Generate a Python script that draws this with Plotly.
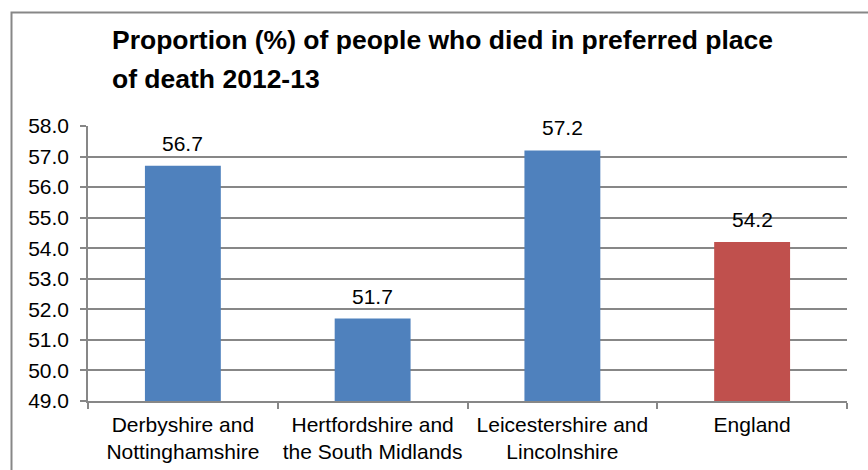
import plotly.graph_objects as go

# Regions and the share (%) of deaths that happened in the preferred place
regions = [
    "Derbyshire and<br>Nottinghamshire",
    "Hertfordshire and<br>the South Midlands",
    "Leicestershire and<br>Lincolnshire",
    "England",
]
proportions = [56.7, 51.7, 57.2, 54.2]
bar_colors = ["#4F81BD", "#4F81BD", "#4F81BD", "#C0504D"]
y_ticks = [49.0, 50.0, 51.0, 52.0, 53.0, 54.0, 55.0, 56.0, 57.0, 58.0]
title_lines = ["Proportion (%) of people who died in preferred place", "of death 2012-13"]

W, H = 868, 470
L, R, T, B = 88, 21, 126, 69
plot_w = W - L - R
plot_h = H - T - B

FONT = "Liberation Sans, Arial, sans-serif"
GREY = "#878787"


def px_x(px):
    return (px - L) / plot_w


def px_y(py):
    return (H - B - py) / plot_h


fig = go.Figure(
    go.Bar(
        x=regions,
        y=proportions,
        marker=dict(color=bar_colors, line=dict(width=0)),
        width=0.4,
        hoverinfo="skip",
    )
)

# value labels above each bar
for name, val in zip(regions, proportions):
    fig.add_annotation(
        x=name, y=val, text=f"{val:.1f}", showarrow=False,
        yanchor="bottom", yshift=9,
        font=dict(family=FONT, size=21, color="#000000"),
    )

# two-line bold title, left aligned
for line, cy in zip(title_lines, [40, 79]):
    fig.add_annotation(
        xref="paper", yref="paper", x=px_x(110), y=px_y(cy),
        xanchor="left", yanchor="middle", showarrow=False,
        text=f"<b>{line}</b>",
        font=dict(family=FONT, size=26.5, color="#000000"),
    )

# chart area frame (runs off the right and bottom edge)
fig.add_shape(
    type="rect", xref="paper", yref="paper",
    x0=px_x(11.5), x1=px_x(W + 20), y0=px_y(H + 20), y1=px_y(12.5),
    line=dict(color=GREY, width=2), fillcolor="rgba(0,0,0,0)", layer="above",
)

fig.update_layout(
    width=W, height=H,
    margin=dict(l=L, r=R, t=T, b=B, pad=0, autoexpand=False),
    paper_bgcolor="white", plot_bgcolor="white",
    showlegend=False,
    font=dict(family=FONT, size=21, color="#000000"),
    xaxis=dict(
        type="category", range=[-0.5, 3.5], automargin=False,
        showline=True, linecolor=GREY, linewidth=1.5,
        ticks="outside", tickson="boundaries", ticklen=6, tickcolor=GREY, tickwidth=1.5,
        showgrid=False, ticklabelstandoff=4,
        tickfont=dict(family=FONT, size=21, color="#000000"),
    ),
    yaxis=dict(
        range=[49, 58], tickvals=y_ticks, tickformat=".1f", automargin=False,
        showline=True, linecolor=GREY, linewidth=1.5,
        ticks="outside", ticklen=6, tickcolor=GREY, tickwidth=1.5,
        showgrid=True, gridcolor=GREY, gridwidth=1.5,
        zeroline=False, ticklabelstandoff=7,
        tickfont=dict(family=FONT, size=21, color="#000000"),
    ),
)

fig.write_html("out.html")
